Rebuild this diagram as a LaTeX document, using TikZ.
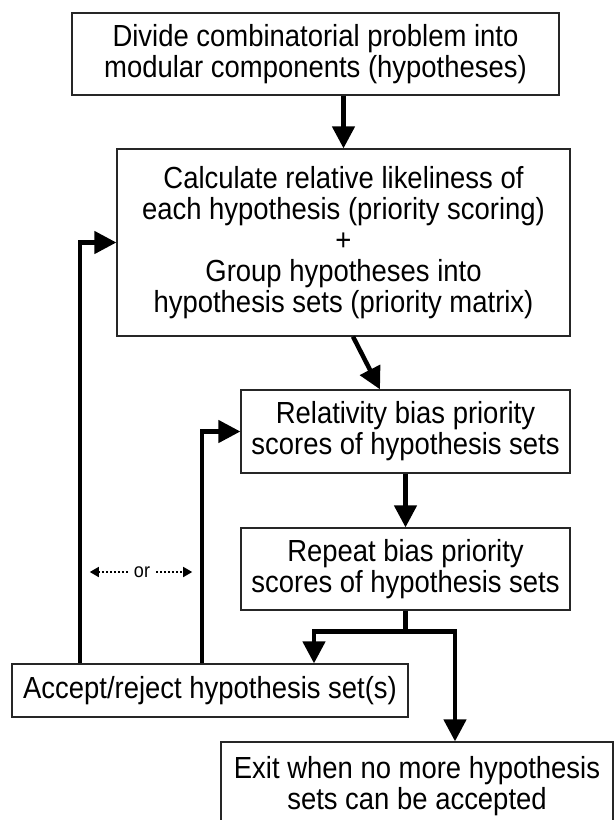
\documentclass[tikz,border=0pt]{standalone}
\usepackage{fontspec}
\setmainfont[FakeStretch=0.9]{Liberation Sans}
\usetikzlibrary{arrows.meta,calc}
\begin{document}
\begin{tikzpicture}[x=1pt,y=-1pt,
  box/.style={draw=black!85, line width=1.2pt, align=center, inner sep=0pt,
    font=\fontsize{30.5}{31}\selectfont},
  arr/.style={line width=4.5pt, line join=miter, -{Triangle[width=22pt,length=22pt]}},
  barr/.style={line width=4.5pt, line join=miter,
    {Triangle[width=22pt,length=22pt]}-{Triangle[width=22pt,length=22pt]}},
  stem/.style={line width=4.5pt},
  orarr/.style={line width=1.6pt, dash pattern=on 2pt off 2pt, -{Triangle[width=10pt,length=9pt]}}]
\useasboundingbox (0,0) rectangle (614,820);
\clip (0,0) rectangle (614,820);
\fill[white] (0,0) rectangle (614,820);

\node[box, minimum width=487pt, minimum height=82pt] (top) at (315.5,54)
  {Divide combinatorial problem into\\modular components (hypotheses)};
\node[box, minimum width=453pt, minimum height=187pt] (calc) at (343.5,242.5)
  {Calculate relative likeliness of\\each hypothesis (priority scoring)\\+\\Group hypotheses into\\hypothesis sets (priority matrix)};
\node[box, minimum width=329pt, minimum height=83pt] (rel) at (405.5,431.5)
  {Relativity bias priority\\scores of hypothesis sets};
\node[box, minimum width=329pt, minimum height=82pt] (rep) at (405.5,569)
  {Repeat bias priority\\scores of hypothesis sets};
\node[box, minimum width=396pt, minimum height=53pt] (accept) at (210,690.5)
  {Accept/reject hypothesis set(s)};
\node[box, minimum width=392pt, minimum height=88pt] (exit) at (417,786)
  {Exit when no more hypothesis\\sets can be accepted};

\coordinate (xl) at (80,0);
\coordinate (xr) at (202,0);

\draw[arr] (top.south -| calc.north) -- (calc.north);
\draw[arr] ($(calc.south)+(9.5,0)$) -- ($(rel.north)+(-25.5,0)$);
\draw[arr] (rel.south) -- (rep.north);

\coordinate (br) at ($(rep.south)+(0,21)$);
\draw[stem] (rep.south) -- (br);
\draw[barr] ($(accept.north)+(104,0)$) |- (br) -| ($(exit.north)+(38,0)$);

\draw[arr] (accept.north -| xl) |- (calc.west);
\draw[arr] (accept.north -| xr) |- (rel.west);

\node[inner sep=0pt, font=\fontsize{20}{22}\selectfont] (or) at (142,572) {or};
\draw[orarr] ([xshift=-6pt]or.west) -- ([xshift=-44pt]or.west);
\draw[orarr] ([xshift=6pt]or.east) -- ([xshift=42pt]or.east);
\end{tikzpicture}
\end{document}
